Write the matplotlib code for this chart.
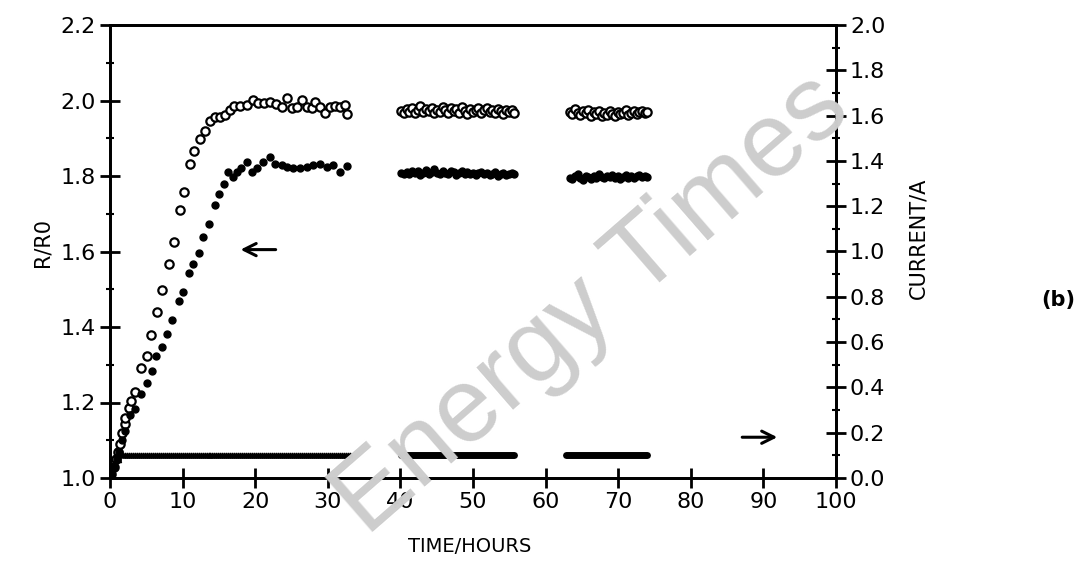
import numpy as np
import matplotlib
matplotlib.use("Agg")
import matplotlib.pyplot as plt
from matplotlib.ticker import MultipleLocator

# ---------------- data ----------------
# first run, open circles (upper R/R0 curve)
t_open1 = [0.0, 0.2, 0.5, 0.8, 1.1, 1.4, 1.7, 2.0, 2.13, 2.59, 2.95, 3.41, 4.33, 5.11,
           5.70, 6.48, 7.17, 8.08, 8.77, 9.59, 10.14, 11.06, 11.61, 12.34, 13.02,
           13.71, 14.49, 15.18, 15.87, 16.55, 17.10, 17.93, 18.84, 19.67, 20.44,
           21.22, 22.05, 22.83, 23.65, 24.34, 25.02, 25.71, 26.40, 27.08, 27.77,
           28.23, 28.91, 29.60, 30.29, 30.98, 31.66, 32.35, 32.58]
r_open1 = [1.0, 1.01, 1.03, 1.05, 1.07, 1.09, 1.12, 1.142, 1.160, 1.186, 1.204, 1.229,
           1.291, 1.324, 1.380, 1.441, 1.499, 1.567, 1.625, 1.709, 1.758, 1.833,
           1.867, 1.897, 1.918, 1.947, 1.956, 1.957, 1.962, 1.975, 1.986, 1.986,
           1.989, 2.002, 1.993, 1.993, 1.997, 1.991, 1.984, 2.006, 1.980, 1.984,
           2.002, 1.984, 1.980, 1.995, 1.984, 1.966, 1.984, 1.986, 1.984, 1.989, 1.965]

# first run, filled dots (lower R/R0 curve)
t_fill1 = [0.0, 0.2, 0.5, 0.9, 1.3, 1.7, 2.13, 2.82, 3.50, 4.33, 5.11, 5.80, 6.39,
           7.17, 7.86, 8.54, 9.45, 10.05, 10.82, 11.43, 12.20, 12.80, 13.57, 14.40,
           15.08, 15.73, 16.32, 17.01, 17.47, 18.02, 18.84, 19.53, 20.22, 21.13,
           22.05, 22.73, 23.65, 24.34, 25.25, 26.17, 27.08, 27.99, 28.91, 29.83,
           30.74, 31.66, 32.58]
r_fill1 = [1.0, 1.01, 1.03, 1.05, 1.07, 1.10, 1.124, 1.168, 1.184, 1.222, 1.251, 1.284,
           1.323, 1.348, 1.381, 1.418, 1.468, 1.492, 1.543, 1.566, 1.597, 1.638,
           1.672, 1.723, 1.753, 1.780, 1.811, 1.798, 1.811, 1.820, 1.838, 1.811,
           1.820, 1.838, 1.851, 1.833, 1.829, 1.824, 1.820, 1.820, 1.824, 1.829,
           1.833, 1.824, 1.829, 1.811, 1.827]

# second run (40 - 55.7 h), densely logged
t2_start, t2_end = 40.1, 55.7
r_open2 = [1.973, 1.968, 1.978, 1.970, 1.980, 1.966, 1.975, 1.985, 1.969, 1.977,
           1.972, 1.981, 1.967, 1.976, 1.970, 1.983, 1.974, 1.966, 1.979, 1.971,
           1.977, 1.968, 1.982, 1.973, 1.965, 1.978, 1.970, 1.976, 1.980, 1.967,
           1.974, 1.979, 1.969, 1.975, 1.966, 1.977, 1.972, 1.964, 1.976, 1.970,
           1.974, 1.968]
r_fill2 = [1.808, 1.804, 1.810, 1.806, 1.812, 1.807, 1.813, 1.803, 1.809, 1.815,
           1.806, 1.811, 1.818, 1.808, 1.804, 1.812, 1.809, 1.806, 1.814, 1.810,
           1.803, 1.808, 1.812, 1.806, 1.810, 1.805, 1.809, 1.802, 1.807, 1.811,
           1.805, 1.808, 1.803, 1.806, 1.810, 1.801, 1.805, 1.808, 1.803, 1.806,
           1.809, 1.804]

# third run (63 - 74 h)
t3_start, t3_end = 63.3, 74.0
r_open3 = [1.970, 1.964, 1.978, 1.967, 1.961, 1.972, 1.966, 1.975, 1.960, 1.969,
           1.963, 1.973, 1.958, 1.968, 1.962, 1.971, 1.965, 1.959, 1.970, 1.963,
           1.967, 1.974, 1.961, 1.966, 1.971, 1.964, 1.969, 1.973, 1.966, 1.970]
r_fill3 = [1.795, 1.792, 1.799, 1.804, 1.796, 1.790, 1.801, 1.797, 1.793, 1.800,
           1.796, 1.806, 1.798, 1.794, 1.800, 1.797, 1.803, 1.795, 1.799, 1.793,
           1.798, 1.802, 1.796, 1.800, 1.794, 1.799, 1.803, 1.797, 1.800, 1.798]

# current (right axis), constant level during each run
cur_level = 0.10
cur_runs = [(1.8, 33.0), (40.1, 55.7), (62.8, 74.0)]
cur_start_t = [0.0, 0.4, 0.8, 1.2, 1.5]
cur_start_v = [0.0, 0.02, 0.05, 0.08, 0.10]

# ---------------- figure ----------------
plt.rcParams['font.family'] = ['DejaVu Sans']
fig = plt.figure(figsize=(10.85, 5.63), dpi=100)

# watermark behind the plot
fig.text(592/1085, 1 - 305/563, "Energy Times", rotation=41, ha='center', va='center',
         fontsize=76, color='#cdcdcd', family='Liberation Sans', zorder=0)

ax = fig.add_axes([110/1085, 85/563, 726/1085, 453/563])
ax.patch.set_alpha(0)
ax2 = ax.twinx()

ax.plot(t_open1, r_open1, 'o', mfc='white', mec='black', ms=6, mew=1.6, zorder=3)
ax.plot(t_fill1, r_fill1, 'o', color='black', ms=5, zorder=3)

t2 = np.linspace(t2_start, t2_end, len(r_open2))
t3 = np.linspace(t3_start, t3_end, len(r_open3))
ax.plot(t2, r_open2, 'o', mfc='white', mec='black', ms=6, mew=1.6, zorder=3)
ax.plot(t2, r_fill2, 'o', color='black', ms=5, zorder=3)
ax.plot(t3, r_open3, 'o', mfc='white', mec='black', ms=6, mew=1.6, zorder=3)
ax.plot(t3, r_fill3, 'o', color='black', ms=5, zorder=3)

# current
ax2.plot(cur_start_t, cur_start_v, '^', color='black', ms=3)
t_c1 = np.linspace(cur_runs[0][0], cur_runs[0][1], 115)
ax2.plot(t_c1, np.full_like(t_c1, cur_level), '^', color='black', ms=3.5)
for a, b in cur_runs[1:]:
    ax2.plot([a, b], [cur_level, cur_level], '-', color='black', lw=5,
             solid_capstyle='round')

# arrows
ax.annotate('', xy=(17.6, 1.605), xytext=(23.2, 1.605),
            arrowprops=dict(arrowstyle='->', lw=2.2, color='black',
                            mutation_scale=22))
ax2.annotate('', xy=(92.3, 0.18), xytext=(86.7, 0.18),
             arrowprops=dict(arrowstyle='->', lw=2.2, color='black',
                             mutation_scale=22))

ax.set_xlim(0, 100)
ax.set_ylim(1.0, 2.2)
ax2.set_ylim(0.0, 2.0)

ax.xaxis.set_major_locator(MultipleLocator(10))
ax.yaxis.set_major_locator(MultipleLocator(0.2))
ax.yaxis.set_minor_locator(MultipleLocator(0.1))
ax2.yaxis.set_major_locator(MultipleLocator(0.2))
ax2.yaxis.set_minor_locator(MultipleLocator(0.1))
ax.yaxis.set_major_formatter(plt.FormatStrFormatter('%.1f'))
ax2.yaxis.set_major_formatter(plt.FormatStrFormatter('%.1f'))

for a in (ax, ax2):
    for s in a.spines.values():
        s.set_linewidth(2)
ax.tick_params(axis='both', which='major', direction='inout', length=14, width=2,
               labelsize=16, pad=3)
ax.tick_params(axis='y', which='minor', direction='inout', length=6, width=1.5)
ax2.tick_params(axis='y', which='major', direction='inout', length=14, width=2,
                labelsize=16, pad=3)
ax2.tick_params(axis='y', which='minor', direction='inout', length=6, width=1.5)

ax.set_xlabel('TIME/HOURS', fontsize=14)
ax.xaxis.set_label_coords((470 - 110)/726, -0.13)
ax.set_ylabel('R/R0', fontsize=15)
ax.yaxis.set_label_coords((52 - 110)/726, 0.52)
ax2.set_ylabel('CURRENT/A', fontsize=15)
ax2.yaxis.set_label_coords((908 - 110)/726, 0.53)

fig.text(1058/1085, 1 - 300/563, '(b)', fontsize=15, fontweight='bold',
         ha='center', va='center')

fig.savefig('out.png', dpi=100)
